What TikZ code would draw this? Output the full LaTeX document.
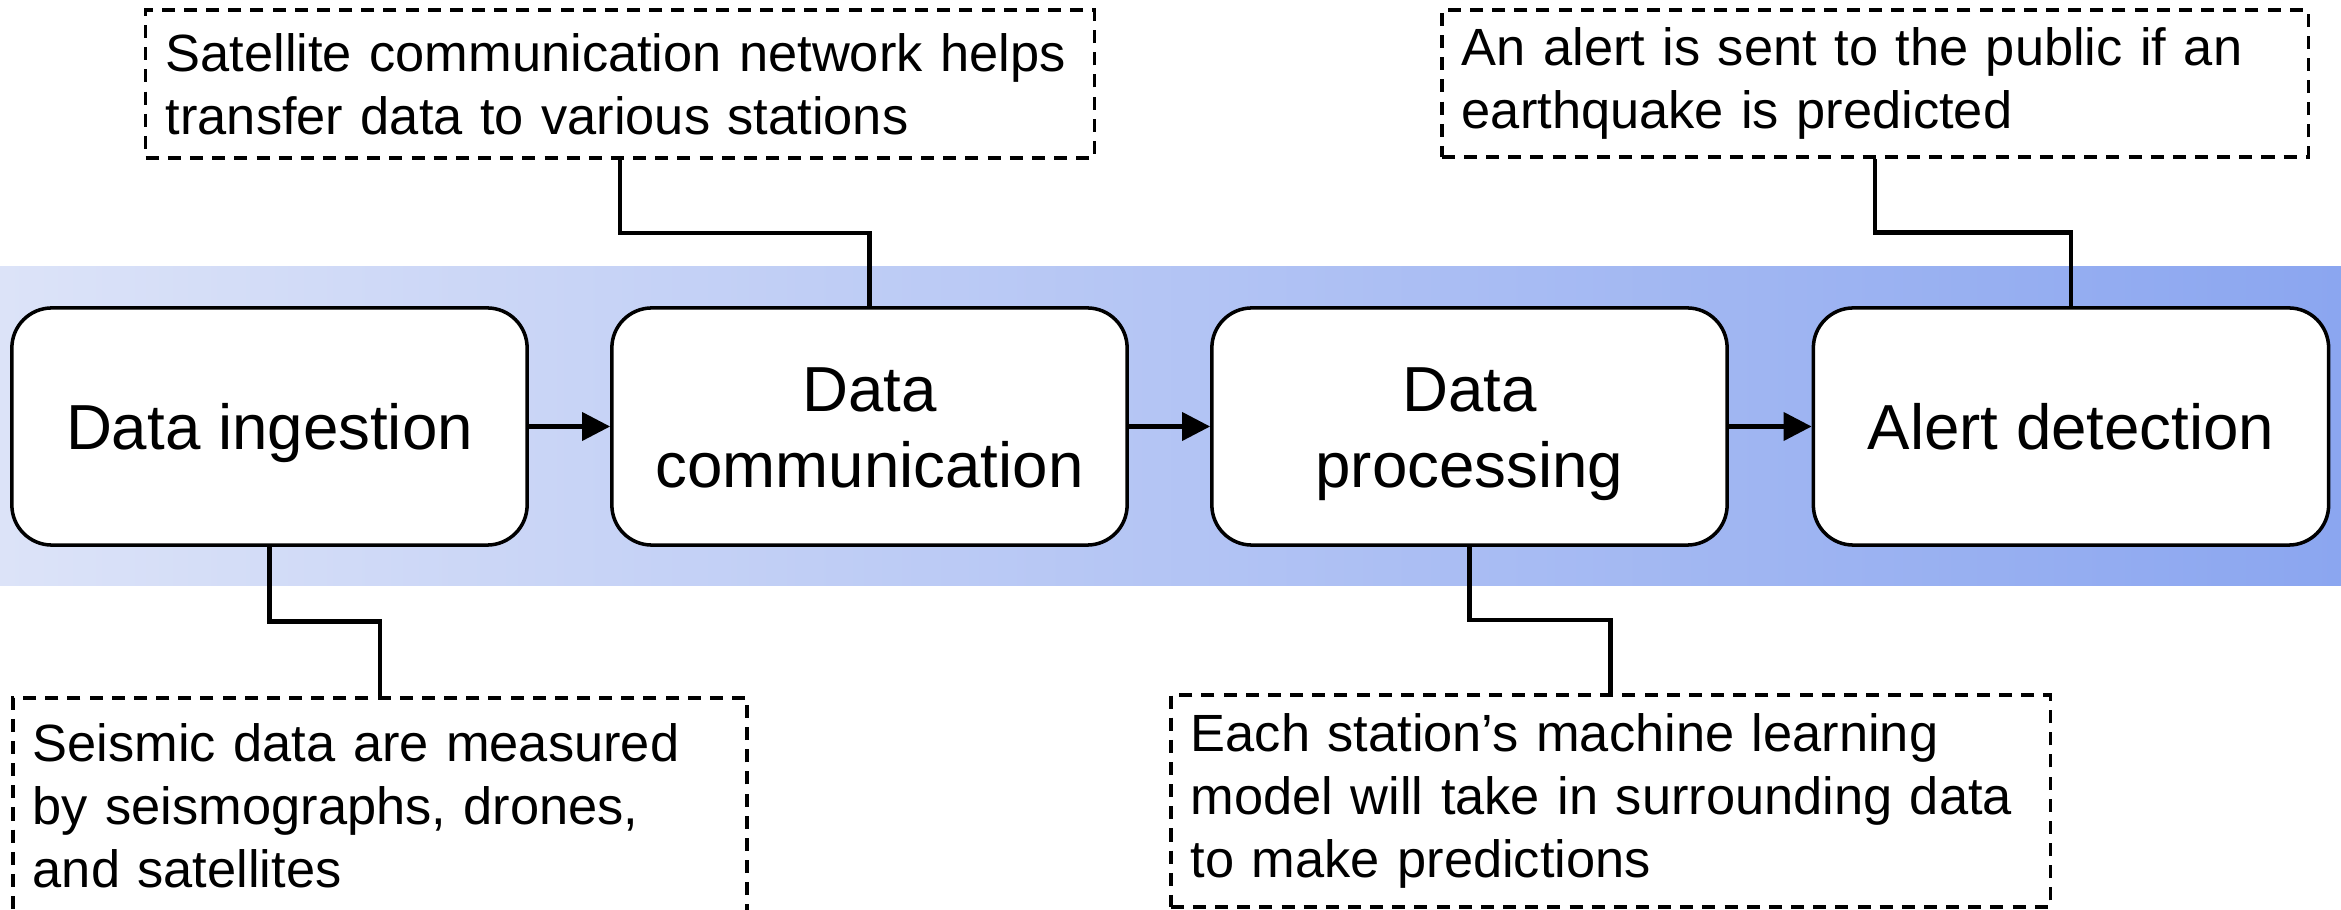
\documentclass[tikz,border=0pt]{standalone}
\usepackage{fontspec}
\setmainfont{Liberation Sans}
\usetikzlibrary{arrows.meta,calc}
\definecolor{bandL}{RGB}{220,227,248}
\definecolor{bandR}{RGB}{139,166,240}
\newcommand\topstrut{\rule{0pt}{17.3pt}}
\newcommand\botstrut{\rule[-4pt]{0pt}{4pt}}
\tikzset{
 mainbox/.style={draw=black, fill=white, line width=1pt, rounded corners=0.4cm,
   minimum width=5.15cm, minimum height=2.37cm, align=center, inner sep=0pt,
   font=\fontsize{18.1}{21.6}\selectfont},
 note/.style={draw=black, line width=1pt, dash pattern=on 3.7pt off 2.6pt,
   align=left, inner xsep=0.2cm, inner ysep=0pt,
   font=\fontsize{14.9}{17.9}\selectfont},
 flow/.style={line width=1.15pt, -{Triangle[length=0.28cm,width=0.28cm]}},
 link/.style={line width=1.15pt},
}
\begin{document}
\begin{tikzpicture}[x=0.01cm,y=-0.01cm]
\clip (0,0) rectangle (2341,910);
\fill[left color=bandL, right color=bandR] (0,267) rectangle (2341,586);

\node[mainbox] (b1) at (269.5,426.5) {\topstrut Data ingestion\botstrut};
\node[mainbox] (b2) at (869.5,426.5) {\topstrut Data\\communication\botstrut};
\node[mainbox] (b3) at (1469.5,426.5) {\topstrut Data\\processing\botstrut};
\node[mainbox] (b4) at (2071,426.5) {\topstrut Alert detection\botstrut};

\node[note, minimum width=9.48cm, text width=9.08cm, minimum height=1.48cm] (n1) at (620,84)
  {Satellite communication network helps\\transfer data to various stations};
\node[note, minimum width=8.66cm, text width=8.26cm, minimum height=1.47cm] (n4) at (1875,83.5)
  {An alert is sent to the public if an\\earthquake is predicted};
\node[note, minimum width=7.34cm, text width=6.94cm, minimum height=2.16cm] (n0) at (380,806)
  {Seismic data are measured\\by seismographs, drones,\\and satellites};
\node[note, minimum width=8.79cm, text width=8.39cm, minimum height=2.12cm] (n3) at (1610.5,801)
  {Each station’s machine learning\\model will take in surrounding data\\to make predictions};

\draw[flow] (b1.east) -- (b2.west);
\draw[flow] (b2.east) -- (b3.west);
\draw[flow] (b3.east) -- (b4.west);

\draw[link] (b2.north) |- ($(b2.north)!.5!(n1.south)$) -| (n1.south);
\draw[link] (b4.north) |- ($(b4.north)!.5!(n4.south)$) -| (n4.south);
\draw[link] (b1.south) |- ($(b1.south)!.5!(n0.north)$) -| (n0.north);
\draw[link] (b3.south) |- ($(b3.south)!.5!(n3.north)$) -| (n3.north);
\end{tikzpicture}
\end{document}
